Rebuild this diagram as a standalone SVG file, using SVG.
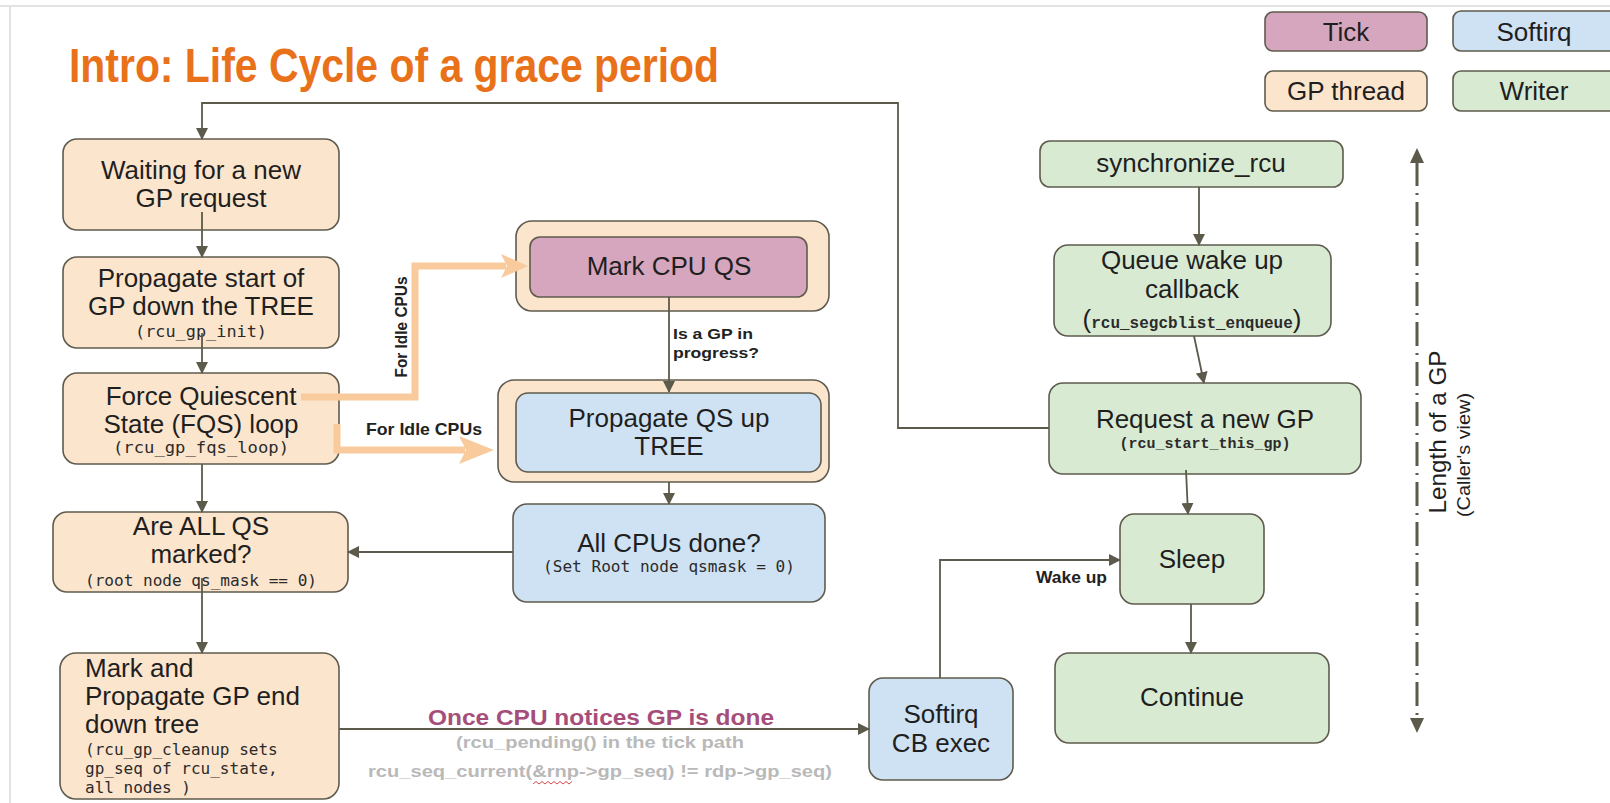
<svg xmlns="http://www.w3.org/2000/svg" width="1610" height="803" viewBox="0 0 1610 803">
<defs>
<style>
.gp{fill:#FCE5CD;stroke:#5f5b4e;stroke-width:1.6}
.tick{fill:#D5A6BD;stroke:#5f5b4e;stroke-width:1.6}
.sirq{fill:#CFE2F3;stroke:#5f5b4e;stroke-width:1.6}
.wr{fill:#D9EAD3;stroke:#5f5b4e;stroke-width:1.6}
.t{font-family:"Liberation Sans",Arial,sans-serif;font-size:26px;fill:#1f1f1f;text-anchor:middle}
.tl{font-family:"Liberation Sans",Arial,sans-serif;font-size:26px;fill:#1f1f1f}
.m{font-family:"DejaVu Sans Mono","Liberation Mono",monospace;font-size:16px;fill:#2b2b2b;text-anchor:middle}
.ml{font-family:"DejaVu Sans Mono","Liberation Mono",monospace;font-size:16px;fill:#2b2b2b}
.mb{font-family:"Liberation Mono","DejaVu Sans Mono",monospace;font-weight:bold;fill:#2b2b2b}
.lbl{font-family:"Liberation Sans",Arial,sans-serif;font-weight:bold;fill:#222}
.pur{font-family:"Liberation Sans",Arial,sans-serif;font-weight:bold;fill:#A64D79;text-anchor:middle}
.gry{font-family:"Liberation Sans",Arial,sans-serif;font-weight:bold;fill:#B9B9B9;text-anchor:middle}
.c{fill:none;stroke:#5c5a4b;stroke-width:1.8}
.o{fill:none;stroke:#F9CB9C;stroke-width:7}
.oh{fill:#F9CB9C}
.ah{fill:#5c5a4b}
</style>
<marker id="arr" viewBox="0 0 12 12" refX="11" refY="6" markerWidth="12" markerHeight="12" markerUnits="userSpaceOnUse" orient="auto"><path d="M0,0 L12,6 L0,12 z" class="ah"/></marker>
</defs>
<rect x="0" y="0" width="1610" height="803" fill="#ffffff"/>
<line x1="0" y1="6" x2="1610" y2="6" stroke="#e2e2e2" stroke-width="2"/>
<line x1="10" y1="6" x2="10" y2="803" stroke="#e2e2e2" stroke-width="2"/>

<text x="69" y="82" font-family="'Liberation Sans Narrow','Liberation Sans',Arial,sans-serif" font-weight="bold" font-size="48" fill="#E8711A" textLength="650" lengthAdjust="spacingAndGlyphs">Intro: Life Cycle of a grace period</text>

<g id="legend">
<g id="legend-tick"><rect x="1265" y="12" width="162" height="39" rx="8" class="tick"/><text x="1346" y="41" class="t">Tick</text></g>
<g id="legend-softirq"><rect x="1453" y="11" width="165" height="40" rx="8" class="sirq"/><text x="1534" y="41" class="t">Softirq</text></g>
<g id="legend-gpthread"><rect x="1265" y="71" width="162" height="40" rx="8" class="gp"/><text x="1346" y="100" class="t">GP thread</text></g>
<g id="legend-writer"><rect x="1453" y="71" width="165" height="40" rx="8" class="wr"/><text x="1534" y="100" class="t">Writer</text></g>
</g>

<g id="node-waiting">
<rect x="63" y="139" width="276" height="91" rx="14" class="gp"/>
<text x="201" y="179" class="t">Waiting for a new</text>
<text x="201" y="207" class="t">GP request</text>
</g>
<g id="node-propagate-start">
<rect x="63" y="257" width="276" height="91" rx="14" class="gp"/>
<text x="201" y="287" class="t">Propagate start of</text>
<text x="201" y="315" class="t">GP down the TREE</text>
<text x="201" y="337" class="m" textLength="132" lengthAdjust="spacingAndGlyphs">(rcu_gp_init)</text>
</g>
<g id="node-fqs">
<rect x="63" y="373" width="276" height="91" rx="14" class="gp"/>
<text x="201" y="405" class="t">Force Quiescent</text>
<text x="201" y="433" class="t">State (FQS) loop</text>
<text x="201" y="453" class="m" textLength="176" lengthAdjust="spacingAndGlyphs">(rcu_gp_fqs_loop)</text>
</g>
<g id="node-all-qs">
<rect x="53" y="512" width="295" height="80" rx="14" class="gp"/>
<text x="201" y="535" class="t">Are ALL QS</text>
<text x="201" y="563" class="t">marked?</text>
<text x="201" y="586" class="m" textLength="232" lengthAdjust="spacingAndGlyphs">(root node qs_mask == 0)</text>
</g>
<g id="node-gp-end">
<rect x="60" y="653" width="279" height="146" rx="16" class="gp"/>
<text x="85" y="677" class="tl">Mark and</text>
<text x="85" y="705" class="tl">Propagate GP end</text>
<text x="85" y="733" class="tl">down tree</text>
<text x="85" y="755" class="ml">(rcu_gp_cleanup sets</text>
<text x="85" y="774" class="ml">gp_seq of rcu_state,</text>
<text x="85" y="793" class="ml">all nodes )</text>
</g>

<g id="node-mark-cpu-qs">
<rect x="516" y="221" width="313" height="90" rx="16" class="gp"/>
<rect x="530" y="237" width="277" height="60" rx="10" class="tick"/>
<text x="669" y="275" class="t">Mark CPU QS</text>
</g>
<g id="node-propagate-qs">
<rect x="498" y="380" width="331" height="102" rx="16" class="gp"/>
<rect x="516" y="393" width="305" height="79" rx="12" class="sirq"/>
<text x="669" y="427" class="t">Propagate QS up</text>
<text x="669" y="455" class="t">TREE</text>
</g>
<g id="node-all-cpus">
<rect x="513" y="504" width="312" height="98" rx="14" class="sirq"/>
<text x="669" y="552" class="t">All CPUs done?</text>
<text x="669" y="572" class="m" textLength="252" lengthAdjust="spacingAndGlyphs">(Set Root node qsmask = 0)</text>
</g>
<g id="node-softirq-cb">
<rect x="869" y="678" width="144" height="102" rx="14" class="sirq"/>
<text x="941" y="723" class="t">Softirq</text>
<text x="941" y="752" class="t">CB exec</text>
</g>

<g id="node-synchronize">
<rect x="1040" y="141" width="303" height="46" rx="10" class="wr"/>
<text x="1191" y="172" class="t">synchronize_rcu</text>
</g>
<g id="node-queue">
<rect x="1054" y="245" width="277" height="91" rx="14" class="wr"/>
<text x="1192" y="269" class="t">Queue wake up</text>
<text x="1192" y="298" class="t">callback</text>
<text x="1192" y="328" class="t">(<tspan class="mb" style="font-size:16px">rcu_segcblist_enqueue</tspan>)</text>
</g>
<g id="node-request">
<rect x="1049" y="383" width="312" height="91" rx="14" class="wr"/>
<text x="1205" y="428" class="t">Request a new GP</text>
<text x="1205" y="448" class="mb" style="font-size:15px;text-anchor:middle">(rcu_start_this_gp)</text>
</g>
<g id="node-sleep">
<rect x="1120" y="514" width="144" height="90" rx="14" class="wr"/>
<text x="1192" y="568" class="t">Sleep</text>
</g>
<g id="node-continue">
<rect x="1055" y="653" width="274" height="90" rx="14" class="wr"/>
<text x="1192" y="706" class="t">Continue</text>
</g>

<g id="connectors">
<path class="c" d="M1049,428 H898 V103 H202 V139" marker-end="url(#arr)"/>
<path class="c" d="M202,212 V257" marker-end="url(#arr)"/>
<path class="c" d="M202,333 V373" marker-end="url(#arr)"/>
<path class="c" d="M202,464 V512" marker-end="url(#arr)"/>
<path class="c" d="M202,578 V653" marker-end="url(#arr)"/>
<path class="c" d="M669,297 V392" marker-end="url(#arr)"/>
<path class="c" d="M669,482 V504" marker-end="url(#arr)"/>
<path class="c" d="M513,552 H348" marker-end="url(#arr)"/>
<path class="c" d="M339,729 H869" marker-end="url(#arr)"/>
<path class="c" d="M940,678 V560 H1120" marker-end="url(#arr)"/>
<path class="c" d="M1199,187 V245" marker-end="url(#arr)"/>
<path class="c" d="M1194,336 L1204,383" marker-end="url(#arr)"/>
<path class="c" d="M1186,470 L1188,514" marker-end="url(#arr)"/>
<path class="c" d="M1191,604 V653" marker-end="url(#arr)"/>
<path d="M1417,162 V720" fill="none" stroke="#5c5a4b" stroke-width="3" stroke-dasharray="24 7 2 7"/>
<polygon class="ah" points="1417,148 1424,163 1410,163"/>
<polygon class="ah" points="1417,733 1424,718 1410,718"/>
<path class="o" d="M301,397 H415 V266 H506"/>
<polygon class="oh" points="501,254 528,266 501,278 507,266"/>
<path class="o" d="M337,424 V450 H465"/>
<polygon class="oh" points="459,436 494,450 459,464 466,450"/>
<text class="lbl" x="673" y="339" style="font-size:15px" textLength="80" lengthAdjust="spacingAndGlyphs">Is a GP in</text>
<text class="lbl" x="673" y="358" style="font-size:15px" textLength="86" lengthAdjust="spacingAndGlyphs">progress?</text>
<text class="lbl" transform="translate(407,327) rotate(-90)" x="0" y="0" style="font-size:16px;text-anchor:middle" textLength="101" lengthAdjust="spacingAndGlyphs">For Idle CPUs</text>
<text class="lbl" x="366" y="435" style="font-size:17px" textLength="116" lengthAdjust="spacingAndGlyphs">For Idle CPUs</text>
<text class="lbl" x="1036" y="583" style="font-size:16px" textLength="71" lengthAdjust="spacingAndGlyphs">Wake up</text>
<text class="pur" x="601" y="725" style="font-size:22px" textLength="346" lengthAdjust="spacingAndGlyphs">Once CPU notices GP is done</text>
<text class="gry" x="600" y="748" style="font-size:17px" textLength="288" lengthAdjust="spacingAndGlyphs">(rcu_pending() in the tick path</text>
<text class="gry" x="600" y="777" style="font-size:17px" textLength="464" lengthAdjust="spacingAndGlyphs">rcu_seq_current(&amp;rnp-&gt;gp_seq) != rdp-&gt;gp_seq)</text>
<path d="M533,784 l3,-2.5 l3,2.5 l3,-2.5 l3,2.5 l3,-2.5 l3,2.5 l3,-2.5 l3,2.5 l3,-2.5 l3,2.5 l3,-2.5 l3,2.5 l3,-2.5" fill="none" stroke="#d24a4a" stroke-width="1"/>
<text transform="translate(1446,432) rotate(-90)" x="0" y="0" text-anchor="middle" font-family="'Liberation Sans',Arial,sans-serif" font-size="24" fill="#1f1f1f" textLength="163" lengthAdjust="spacingAndGlyphs">Length of a GP</text>
<text transform="translate(1470,455) rotate(-90)" x="0" y="0" text-anchor="middle" font-family="'Liberation Sans',Arial,sans-serif" font-size="19" fill="#1f1f1f" textLength="124" lengthAdjust="spacingAndGlyphs">(Caller's view)</text>
</g>
</svg>
